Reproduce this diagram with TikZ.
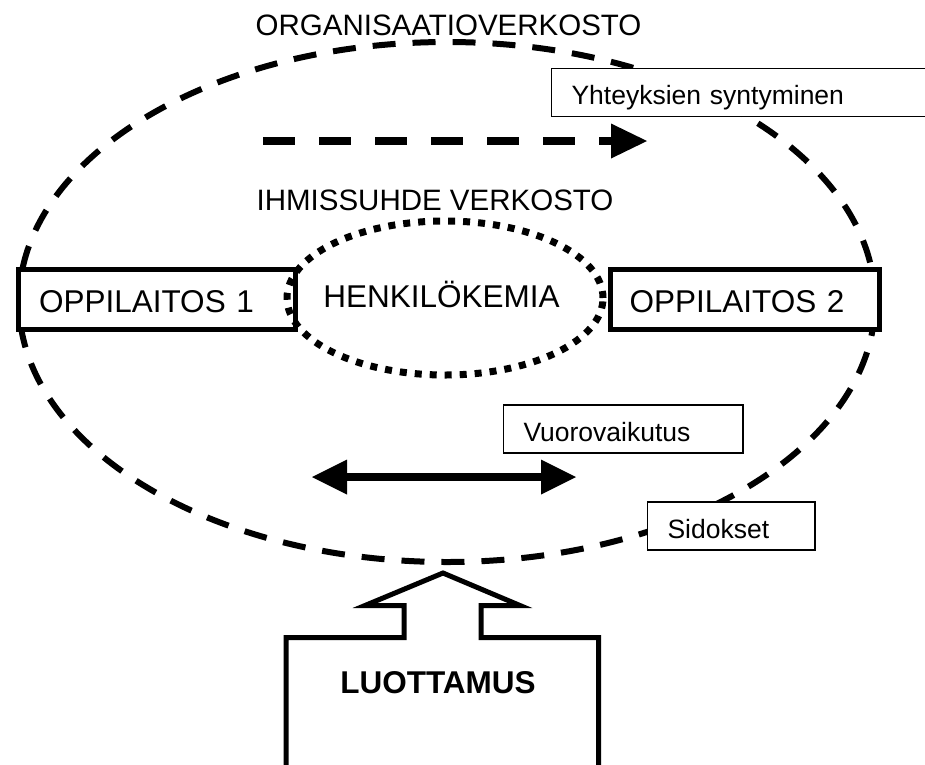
\documentclass[tikz,border=0pt]{standalone}
\usepackage{fontspec}
\setmainfont{Liberation Sans}
\usetikzlibrary{shapes.geometric,arrows.meta}
\begin{document}
\begin{tikzpicture}[x=1pt,y=-1pt,
  lbl/.style={font=\fontsize{26.5pt}{30pt}\selectfont},
  big/.style={font=\fontsize{31.5pt}{36pt}\selectfont},
  ttl/.style={font=\fontsize{29.5pt}{34pt}\selectfont},
  smallbox/.style={draw, line width=1.5pt, fill=white, anchor=west, minimum height=48pt, inner xsep=20pt, inner ysep=0pt, align=left, text height=24pt, text depth=0pt, lbl},
  orgbox/.style={draw, line width=5pt, fill=white, anchor=west, minimum height=60pt, inner ysep=0pt, align=left, text height=25pt, text depth=0pt, big},
  outerell/.style={ellipse, draw, line width=6pt, dash pattern=on 23pt off 17pt, minimum width=856pt, minimum height=520pt, inner sep=0pt},
  innerell/.style={ellipse, draw, line width=7pt, dash pattern=on 7pt off 8pt, minimum width=316pt, minimum height=154pt, inner sep=0pt},
  flow/.style={line width=8pt, dash pattern=on 32pt off 24pt, -{Triangle[length=36pt,width=35pt,line width=0pt]}},
  inter/.style={line width=8pt, {Triangle[length=35pt,width=35pt,line width=0pt]}-{Triangle[length=35pt,width=35pt,line width=0pt]}},
  trust/.style={line width=5pt, fill=white, miter limit=10}
]
\useasboundingbox (0,0) rectangle (925,764);
\clip (0,0) rectangle (925,764);

\node[ttl, anchor=base] (orgtitle) at (448.5,35) {ORGANISAATIOVERKOSTO};
\node[outerell] (orgnet) at (447,302) {};

\coordinate (flowS) at (263,141);
\coordinate (flowE) at (647,141);
\draw[flow] (flowS) -- (flowE);

\node[ttl, anchor=base] (humtitle) at (435,210) {IHMISSUHDE VERKOSTO};

\node[orgbox, inner xsep=21pt, text width=235pt] (opp1) at (15.5,299.5) {OPPILAITOS 1};
\node[orgbox, inner xsep=19.5pt, text width=230pt] (opp2) at (607.5,299.5) {OPPILAITOS 2};

\node[innerell] (chem) at (445,298) {};
\node[big, anchor=base] (chemtext) at (441.5,307) {HENKILÖKEMIA};

\node[smallbox, text width=349.5pt] (yht) at (550.75,92.5) {Yhteyksien syntyminen};
\node[smallbox, text width=199.5pt] (vuoro) at (502.75,429) {Vuorovaikutus};
\node[smallbox, text width=127.5pt] (sid) at (646.75,526) {Sidokset};

\coordinate (iaL) at (312,477);
\coordinate (iaR) at (576,477);
\draw[inter] (iaL) -- (iaR);

\draw[trust] (286,775) -- (286,637.5) -- (404,637.5) -- (404,605.5) -- (365,605.5)
  -- (443,573) -- (520,605.5) -- (481,605.5) -- (481,637.5) -- (598.5,637.5) -- (598.5,775);
\node[font=\bfseries\fontsize{31.5pt}{36pt}\selectfont, anchor=base] (trusttext) at (438,693) {LUOTTAMUS};
\end{tikzpicture}
\end{document}
